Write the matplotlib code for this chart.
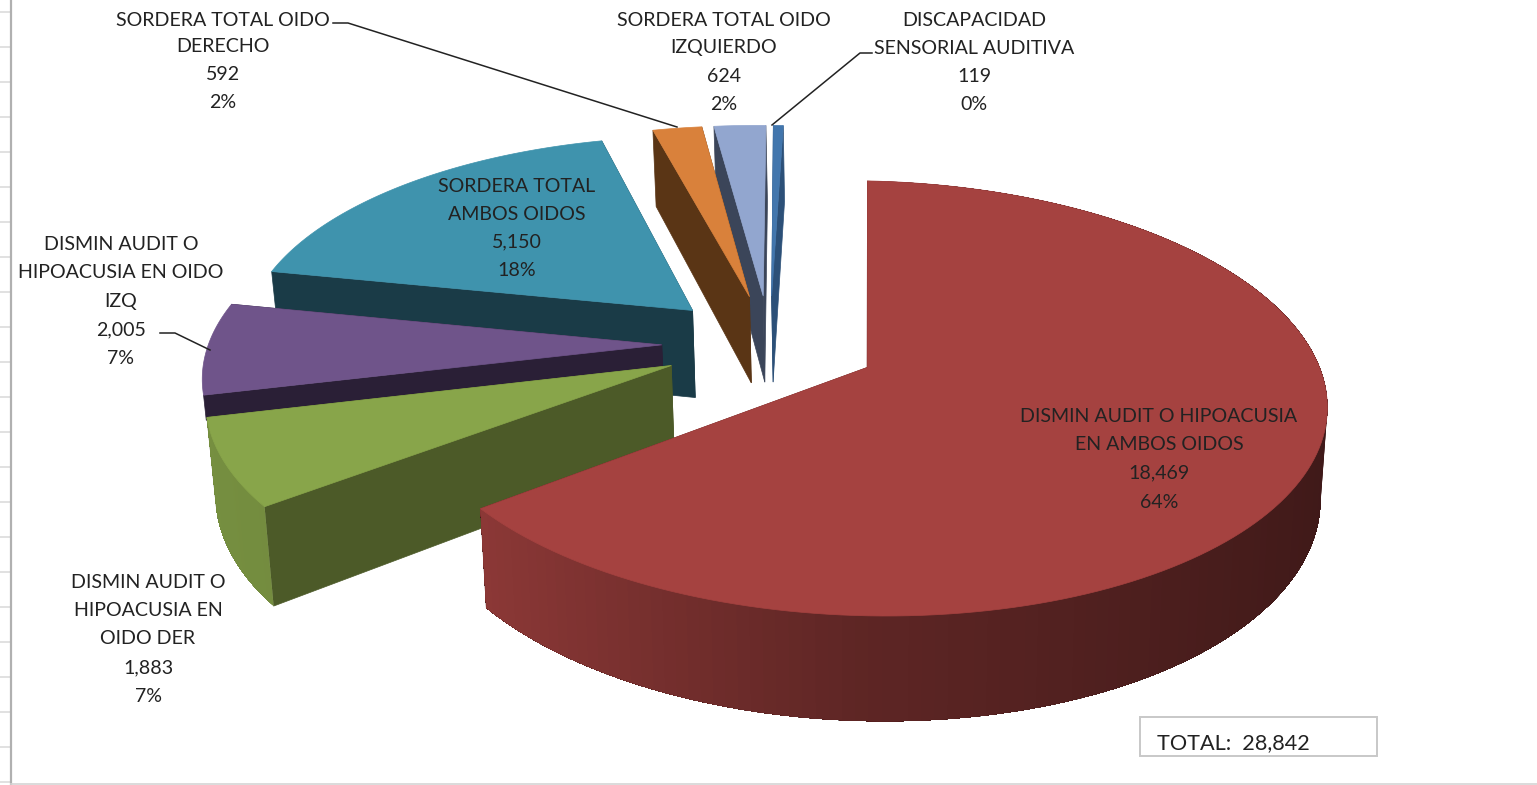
import matplotlib
matplotlib.use('Agg')
import matplotlib.pyplot as plt
import numpy as np

# Values, clockwise from 12 o'clock
names = [
    ['DISMIN AUDIT O HIPOACUSIA', 'EN AMBOS OIDOS'],
    ['DISMIN AUDIT O', 'HIPOACUSIA EN', 'OIDO DER'],
    ['DISMIN AUDIT O', 'HIPOACUSIA EN OIDO', 'IZQ'],
    ['SORDERA TOTAL', 'AMBOS OIDOS'],
    ['SORDERA TOTAL OIDO', 'DERECHO'],
    ['SORDERA TOTAL OIDO', 'IZQUIERDO'],
    ['DISCAPACIDAD', 'SENSORIAL AUDITIVA'],
]
values = [18469, 1883, 2005, 5150, 592, 624, 119]
total_label = 'TOTAL:  28,842'

top_colors = ['#a54240', '#88a54a', '#6f548a', '#3f93ad', '#d9813b', '#92a6cf', '#4276ad']
side_colors = ['#5a1f1c', '#4c5a28', '#2a1f36', '#1a3b47', '#5a3515', '#3b4559', '#2c5078']
# only these slices show their outer wall
show_wall = [True, True, False, False, False, False, False]
# how far down the cut faces are drawn, the purple one sits behind the green slice
face_depth = [1, 1, 0.27, 1, 1, 1, 1]

# label placement: centre x and the y of each line
label_x = [1159, 148, 121, 517, 223, 724, 974]
label_y = [
    [415, 443, 471, 500],
    [581, 609, 637, 666, 694],
    [243, 271, 299, 328, 356],
    [184, 212, 240, 269],
    [18, 44, 72, 101],
    [18, 46, 74, 103],
    [18, 46, 74, 103],
]

# 3d pie camera settings, in pixels of the picture
VANISH_X = 869
CENTRE_Y = 346
CENTRE_X_WORLD = -0.221
RADIUS_X = 449
RADIUS_Y = 207
PERSP = 0.14
HEIGHT = 89
EXPLODE = 0.24
TILT = 0.02
CONVERGE = 0.015


def project(x, y, drop=0.0):
    w = 1 + PERSP * y
    px = RADIUS_X * x / w
    py = CENTRE_Y - RADIUS_Y * y / w + drop * HEIGHT / w + TILT * px
    return VANISH_X + px * (1 - CONVERGE * drop), py


def shade(color, f):
    rgb = np.array(matplotlib.colors.to_rgb(color))
    return tuple(rgb * f)


def rim_factor(theta):
    # left of the pie is lit, right is dark
    return np.interp(np.sin(theta), [-1, -0.77, 0, 1], [0.87, 0.85, 0.57, 0.38])


def draw_slice(ax, a0, a1, top, side, wall, depth, order):
    mid = (a0 + a1) / 2
    ax_x = CENTRE_X_WORLD + EXPLODE * np.sin(mid)
    ax_y = EXPLODE * np.cos(mid)
    t = np.linspace(a0, a1, 160)
    rim_x = ax_x + np.sin(t)
    rim_y = ax_y + np.cos(t)

    # flat cut faces
    for a in [a0, a1]:
        ex, ey = ax_x + np.sin(a), ax_y + np.cos(a)
        p = [project(ax_x, ax_y), project(ex, ey), project(ex, ey, depth), project(ax_x, ax_y, depth)]
        ax.fill([q[0] for q in p], [q[1] for q in p], color=side, lw=0.5, zorder=order)

    # outer wall, each band painted from its angle to the end so no seams show
    if wall:
        for i in range(len(t) - 1):
            sx, sy = project(rim_x[i:], rim_y[i:])
            bx, by = project(rim_x[i:], rim_y[i:], 1)
            ax.fill(np.r_[sx, bx[::-1]], np.r_[sy, by[::-1]],
                    color=shade(top, rim_factor(t[i])), lw=0, zorder=order)

    # top face
    sx, sy = project(np.r_[ax_x, rim_x], np.r_[ax_y, rim_y])
    ax.fill(sx, sy, color=top, lw=0.5, zorder=order + 0.5)


fig = plt.figure(figsize=(15.37, 7.85), dpi=100)
ax = fig.add_axes([0, 0, 1, 1])
ax.set_xlim(0, 1537)
ax.set_ylim(785, 0)
ax.axis('off')

# spreadsheet cells showing behind the chart
for y in np.arange(12, 785, 35):
    ax.plot([0, 11], [y, y], color='#dcdcdc', lw=1.2, zorder=1)
ax.plot([11, 11], [0, 785], color='#b0b0b0', lw=1.6, zorder=1)
ax.plot([11, 1537], [783.5, 783.5], color='#d4d4d4', lw=1.2, zorder=1)

# slices, far ones first
total = sum(values)
edges = np.r_[0, np.cumsum(values)] / total * 2 * np.pi
for order, i in enumerate([6, 5, 4, 3, 2, 1, 0]):
    draw_slice(ax, edges[i], edges[i + 1], top_colors[i], side_colors[i], show_wall[i],
               face_depth[i], 2 + order)

# leader lines
ax.plot([333, 348, 677], [23, 23, 127], color='#222222', lw=1.1, zorder=12)
ax.plot([872, 860, 772], [53, 53, 125], color='#222222', lw=1.1, zorder=12)
ax.plot([160, 175, 210], [333, 333, 350], color='#222222', lw=1.1, zorder=12)

# data labels
for i in range(len(values)):
    pct = round(values[i] / total * 100)
    lines = names[i] + [f'{values[i]:,}', f'{pct}%']
    for line, y in zip(lines, label_y[i]):
        ax.text(label_x[i], y + 2, line, ha='center', va='center', fontsize=14.1,
                family='Lato', color='#222222', zorder=20)

# total box
ax.add_patch(plt.Rectangle((1140, 717), 237, 39, fc='white', ec='#c8c8c8', lw=1.4, zorder=15))
ax.text(1157, 743, total_label, ha='left', va='center', fontsize=15.6,
        family='Lato', color='#222222', zorder=20)

plt.savefig('out.png', dpi=100)
